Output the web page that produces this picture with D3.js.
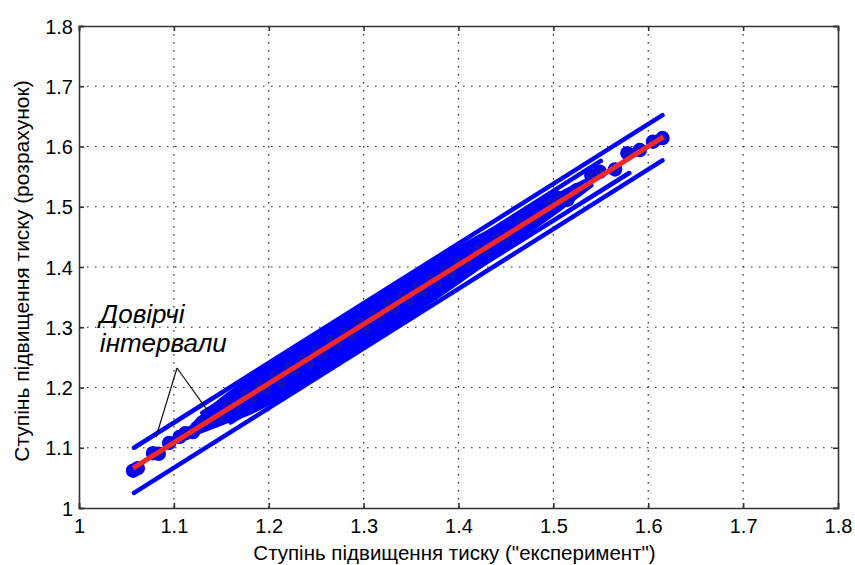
<!DOCTYPE html>
<html><head><meta charset="utf-8">
<script src="https://cdn.jsdelivr.net/npm/d3@7"></script>
<style>
body{margin:0;background:#fff;}
svg{display:block;}
text{font-family:"Liberation Sans",Arial,sans-serif;fill:#000;}
</style></head>
<body><svg id="c" width="855" height="565"></svg>
<script>
const xTicks = [1, 1.1, 1.2, 1.3, 1.4, 1.5, 1.6, 1.7, 1.8];
const yTicks = [1, 1.1, 1.2, 1.3, 1.4, 1.5, 1.6, 1.7, 1.8];
const xTitle = 'Ступінь підвищення тиску ("експеримент")';
const yTitle = 'Ступінь підвищення тиску (розрахунок)';
const noteLines = ['Довірчі', 'інтервали'];

const pointsX = [1.057,1.062,1.078,1.084,1.095,1.106,1.112,1.12,1.13,1.141,1.15,1.158,1.166,1.175,1.183,1.19,1.198,1.205,1.213,1.22,1.228,1.235,1.243,1.25,1.258,1.265,1.273,1.28,1.288,1.295,1.303,1.31,1.318,1.325,1.333,1.34,1.348,1.355,1.363,1.37,1.378,1.385,1.393,1.40,1.41,1.42,1.43,1.44,1.45,1.465,1.48,1.495,1.504,1.515,1.525,1.54,1.549,1.565,1.578,1.591,1.605,1.615];
const pointsY = [1.062,1.066,1.091,1.090,1.108,1.118,1.124,1.126,1.142,1.146,1.150,1.172,1.168,1.190,1.182,1.205,1.196,1.220,1.206,1.234,1.228,1.250,1.238,1.262,1.252,1.280,1.270,1.292,1.286,1.310,1.296,1.322,1.315,1.340,1.330,1.352,1.343,1.368,1.358,1.382,1.372,1.396,1.388,1.410,1.405,1.430,1.426,1.450,1.445,1.475,1.478,1.508,1.515,1.512,1.528,1.552,1.558,1.562,1.589,1.594,1.608,1.614];

const bandX    = [1.12, 1.15, 1.18, 1.25, 1.32, 1.40, 1.45, 1.50, 1.54];
const bandLow  = [1.122,1.140,1.158,1.220,1.290,1.375,1.432,1.488,1.535];
const bandHigh = [1.138,1.180,1.215,1.288,1.356,1.432,1.474,1.516,1.548];

const fitX = [1.057, 1.616];
const fitY = [1.066, 1.616];
const upperCIX = [1.058, 1.615];
const upperCIY = [1.100, 1.652];
const lowerCIX = [1.058, 1.615];
const lowerCIY = [1.025, 1.577];
const innerUpperX = [1.13, 1.55];
const innerUpperY = [1.158, 1.576];
const innerLowerX = [1.16, 1.58];
const innerLowerY = [1.142, 1.556];

const noteAnchor = [1.1033, 1.2324];
const noteTargetsX = [1.0812, 1.135];
const noteTargetsY = [1.1178, 1.1627];
const noteTextX = 1.022;
const noteTextY = [1.307, 1.259];

const svg = d3.select('#c');
const L = 79, R = 838, T = 26, B = 508;
const x = d3.scaleLinear().domain([1, 1.8]).range([L, R]);
const y = d3.scaleLinear().domain([1, 1.8]).range([B, T]);

// grid
const grid = svg.append('g');
grid.selectAll('line.gx').data(xTicks.slice(1, -1)).enter().append('line')
  .attr('x1', d => x(d)).attr('x2', d => x(d)).attr('y1', T).attr('y2', B)
  .attr('stroke', '#222').attr('stroke-width', 1.2).attr('stroke-dasharray', '1.5,6.5');
grid.selectAll('line.gy').data(yTicks.slice(1, -1)).enter().append('line')
  .attr('y1', d => y(d)).attr('y2', d => y(d)).attr('x1', L).attr('x2', R)
  .attr('stroke', '#222').attr('stroke-width', 1.2).attr('stroke-dasharray', '1.5,6.5');

const blue = '#0000ff';
const line2 = (xs, ys) => d3.line()(xs.map((v, i) => [x(v), y(ys[i])]));

// dense band
const area = d3.area().x(d => x(d[0])).y0(d => y(d[1])).y1(d => y(d[2])).curve(d3.curveMonotoneX);
svg.append('path').attr('d', area(bandX.map((v, i) => [v, bandLow[i], bandHigh[i]])))
  .attr('fill', blue).attr('stroke', blue).attr('stroke-width', 4);

[[upperCIX, upperCIY], [lowerCIX, lowerCIY], [innerUpperX, innerUpperY], [innerLowerX, innerLowerY]].forEach(([xs, ys]) => {
  svg.append('path').attr('d', line2(xs, ys)).attr('stroke', blue).attr('stroke-width', 4.5)
    .attr('fill', 'none').attr('stroke-linecap', 'round');
});

// points
svg.append('g').selectAll('circle').data(pointsX).enter().append('circle')
  .attr('cx', d => x(d)).attr('cy', (d, i) => y(pointsY[i])).attr('r', 6)
  .attr('fill', '#1010c8').attr('stroke', blue).attr('stroke-width', 2.5);

// regression line
svg.append('path').attr('d', line2(fitX, fitY)).attr('stroke', '#f02828').attr('stroke-width', 5)
  .attr('fill', 'none');

// axes box
const xAxis = d3.axisBottom(x).tickValues(xTicks).tickSize(-5).tickFormat(d3.format('~g'));
const xAxisTop = d3.axisTop(x).tickValues(xTicks).tickSize(-5).tickFormat('');
const yAxis = d3.axisLeft(y).tickValues(yTicks).tickSize(-5).tickFormat(d3.format('~g'));
const yAxisR = d3.axisRight(y).tickValues(yTicks).tickSize(-5).tickFormat('');
const gx = svg.append('g').attr('transform', `translate(0,${B})`).call(xAxis);
svg.append('g').attr('transform', `translate(0,${T})`).call(xAxisTop);
const gy = svg.append('g').attr('transform', `translate(${L},0)`).call(yAxis);
svg.append('g').attr('transform', `translate(${R},0)`).call(yAxisR);
svg.selectAll('.domain').attr('stroke', '#333').attr('stroke-width', 1.6);
svg.selectAll('.tick line').attr('stroke', '#333').attr('stroke-width', 1.6);
gx.selectAll('text').attr('font-size', 20).attr('font-family', '"Liberation Sans",Arial,sans-serif').attr('dy', null).attr('y', 25).attr('fill', '#111');
gy.selectAll('text').attr('font-size', 20).attr('font-family', '"Liberation Sans",Arial,sans-serif').attr('x', -6).attr('dy', '0.35em').attr('fill', '#111');

// titles
svg.append('text').attr('x', (L + R) / 2 - 4).attr('y', 560).attr('text-anchor', 'middle')
  .attr('font-size', 20.5).attr('fill', '#111').text(xTitle);
svg.append('text').attr('transform', `translate(29,${(T + B) / 2 + 4}) rotate(-90)`).attr('text-anchor', 'middle')
  .attr('font-size', 21).attr('fill', '#111').text(yTitle);

// annotation
noteTargetsX.forEach((tx, i) => {
  svg.append('line').attr('x1', x(noteAnchor[0])).attr('y1', y(noteAnchor[1]))
    .attr('x2', x(tx)).attr('y2', y(noteTargetsY[i])).attr('stroke', '#111').attr('stroke-width', 1.2);
});
noteLines.forEach((t, i) => {
  svg.append('text').attr('x', x(noteTextX)).attr('y', y(noteTextY[i]))
    .attr('font-size', 26).attr('font-style', 'italic').attr('fill', '#111').text(t);
});
</script></body></html>
